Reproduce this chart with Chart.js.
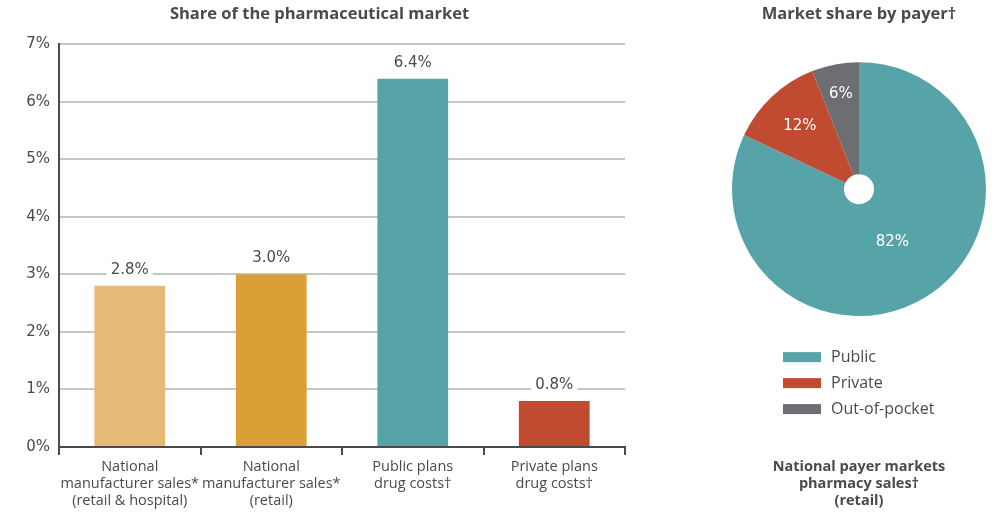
<!DOCTYPE html>
<html>
<head>
<meta charset="utf-8">
<script src="https://cdn.jsdelivr.net/npm/chart.js@4.4.0/dist/chart.umd.min.js"></script>
<style>
  html, body { margin: 0; padding: 0; background: #ffffff; }
  #wrap { position: relative; width: 998px; height: 519px; overflow: hidden; }
  #barBox { position: absolute; left: 0; top: 0; width: 660px; height: 519px; }
  #pieBox { position: absolute; left: 700px; top: 0; width: 298px; height: 519px; }
</style>
</head>
<body>
<div id="wrap">
  <div id="barBox"><canvas id="bar"></canvas></div>
  <div id="pieBox"><canvas id="pie"></canvas></div>
</div>
<script>
// ---- Data ----
const barCategories = [
  ["National", "manufacturer sales*", "(retail & hospital)"],
  ["National", "manufacturer sales*", "(retail)"],
  ["Public plans", "drug costs\u2020"],
  ["Private plans", "drug costs\u2020"]
];
const barValues = [2.8, 3.0, 6.4, 0.8];
const barColors = ["#e6b977", "#dba035", "#57a4a8", "#c04b30"];
const yTicks = [0, 1, 2, 3, 4, 5, 6, 7];

const pieLabels = ["Public", "Private", "Out-of-pocket"];
const pieValues = [82, 12, 6];
const pieColors = ["#57a4a8", "#c04b30", "#6d6e72"];

const FONT = "'Open Sans', 'Noto Sans', sans-serif";
const NUMFONT = "'DejaVu Sans', 'Open Sans', sans-serif";
const TEXT = "#4a4a4a";
Chart.defaults.font.family = FONT;
Chart.defaults.color = TEXT;

// ---- Bar value labels with white background ----
const barLabelPlugin = {
  id: 'barLabels',
  afterDatasetsDraw(chart) {
    const ctx = chart.ctx;
    const meta = chart.getDatasetMeta(0);
    ctx.save();
    ctx.font = "15px " + NUMFONT;
    ctx.textAlign = 'center';
    ctx.textBaseline = 'middle';
    meta.data.forEach((bar, i) => {
      const txt = barValues[i].toFixed(1) + '%';
      const w = ctx.measureText(txt).width + 8;
      const y = bar.y - 16;
      ctx.fillStyle = '#ffffff';
      ctx.fillRect(bar.x - w / 2, y - 10, w, 20);
      ctx.fillStyle = TEXT;
      ctx.fillText(txt, bar.x, y);
    });
    ctx.restore();
  }
};

new Chart(document.getElementById('bar'), {
  type: 'bar',
  data: {
    labels: barCategories,
    datasets: [{
      data: barValues,
      backgroundColor: barColors,
      borderWidth: 0,
      categoryPercentage: 1.0,
      barPercentage: 0.5
    }]
  },
  options: {
    responsive: true,
    maintainAspectRatio: false,
    animation: false,
    events: [],
    layout: { padding: { left: 14, right: 35, top: 0, bottom: 0 } },
    plugins: {
      legend: { display: false },
      tooltip: { enabled: false },
      title: {
        display: true,
        text: 'Share of the pharmaceutical market',
        color: TEXT,
        font: { size: 16.5, weight: 'bold', lineHeight: 1.1 },
        padding: { top: 5, bottom: 21 }
      }
    },
    scales: {
      y: {
        min: 0, max: 7,
        afterBuildTicks(scale) { scale.ticks = yTicks.map(v => ({ value: v })); },
        afterFit(scale) { scale.width = 45; },
        ticks: {
          callback: v => v + '%',
          color: TEXT,
          font: { size: 15, family: NUMFONT },
          padding: 9
        },
        grid: { color: '#c6c6c6', lineWidth: 2, drawTicks: false },
        border: { display: true, color: '#4a4a4a', width: 2 }
      },
      x: {
        afterFit(scale) { scale.height = 72; },
        ticks: {
          color: TEXT,
          font: { size: 14.5, lineHeight: 1.17 },
          padding: 3,
          maxRotation: 0,
          autoSkip: false
        },
        grid: { offset: true, drawOnChartArea: false, color: '#4a4a4a', lineWidth: 2, tickLength: 8 },
        border: { display: true, color: '#4a4a4a', width: 2 }
      }
    }
  },
  plugins: [barLabelPlugin]
});

// ---- Pie labels + legend ----
const pieExtrasPlugin = {
  id: 'pieExtras',
  afterDatasetsDraw(chart) {
    const ctx = chart.ctx;
    const meta = chart.getDatasetMeta(0);
    const radFactors = [0.49, 0.68, 0.76];
    ctx.save();
    ctx.font = "15px " + NUMFONT;
    ctx.fillStyle = '#ffffff';
    ctx.textAlign = 'center';
    ctx.textBaseline = 'middle';
    meta.data.forEach((arc, i) => {
      const mid = (arc.startAngle + arc.endAngle) / 2;
      const r = arc.outerRadius * radFactors[i];
      ctx.fillText(pieValues[i] + '%', arc.x + Math.cos(mid) * r, arc.y + Math.sin(mid) * r);
    });
    // legend
    const area = chart.chartArea;
    const boxX = 83, textX = 131, boxW = 38, boxH = 10;
    const firstY = area.bottom + 41, step = 26;
    ctx.font = "16px " + FONT;
    ctx.textAlign = 'left';
    pieLabels.forEach((lab, i) => {
      const y = firstY + i * step;
      ctx.fillStyle = pieColors[i];
      ctx.fillRect(boxX, y - boxH / 2, boxW, boxH);
      ctx.fillStyle = TEXT;
      ctx.fillText(lab, textX, y);
    });
    ctx.restore();
  }
};

new Chart(document.getElementById('pie'), {
  type: 'doughnut',
  data: {
    labels: pieLabels,
    datasets: [{
      data: pieValues,
      backgroundColor: pieColors,
      borderWidth: 0,
      hoverOffset: 0
    }]
  },
  options: {
    responsive: true,
    maintainAspectRatio: false,
    animation: false,
    events: [],
    cutout: 15,
    rotation: 0,
    layout: { padding: { left: 20, right: 0, top: 0, bottom: 10 } },
    plugins: {
      legend: { display: false },
      tooltip: { enabled: false },
      title: {
        display: true,
        text: 'Market share by payer\u2020',
        color: TEXT,
        font: { size: 16.5, weight: 'bold', lineHeight: 1.1 },
        padding: { top: 5, bottom: 39 }
      },
      subtitle: {
        display: true,
        position: 'bottom',
        text: ['National payer markets', 'pharmacy sales\u2020', '(retail)'],
        color: TEXT,
        font: { size: 14.5, weight: 'bold', lineHeight: 1.17 },
        padding: { top: 142, bottom: 0 }
      }
    }
  },
  plugins: [pieExtrasPlugin]
});
</script>
</body>
</html>
